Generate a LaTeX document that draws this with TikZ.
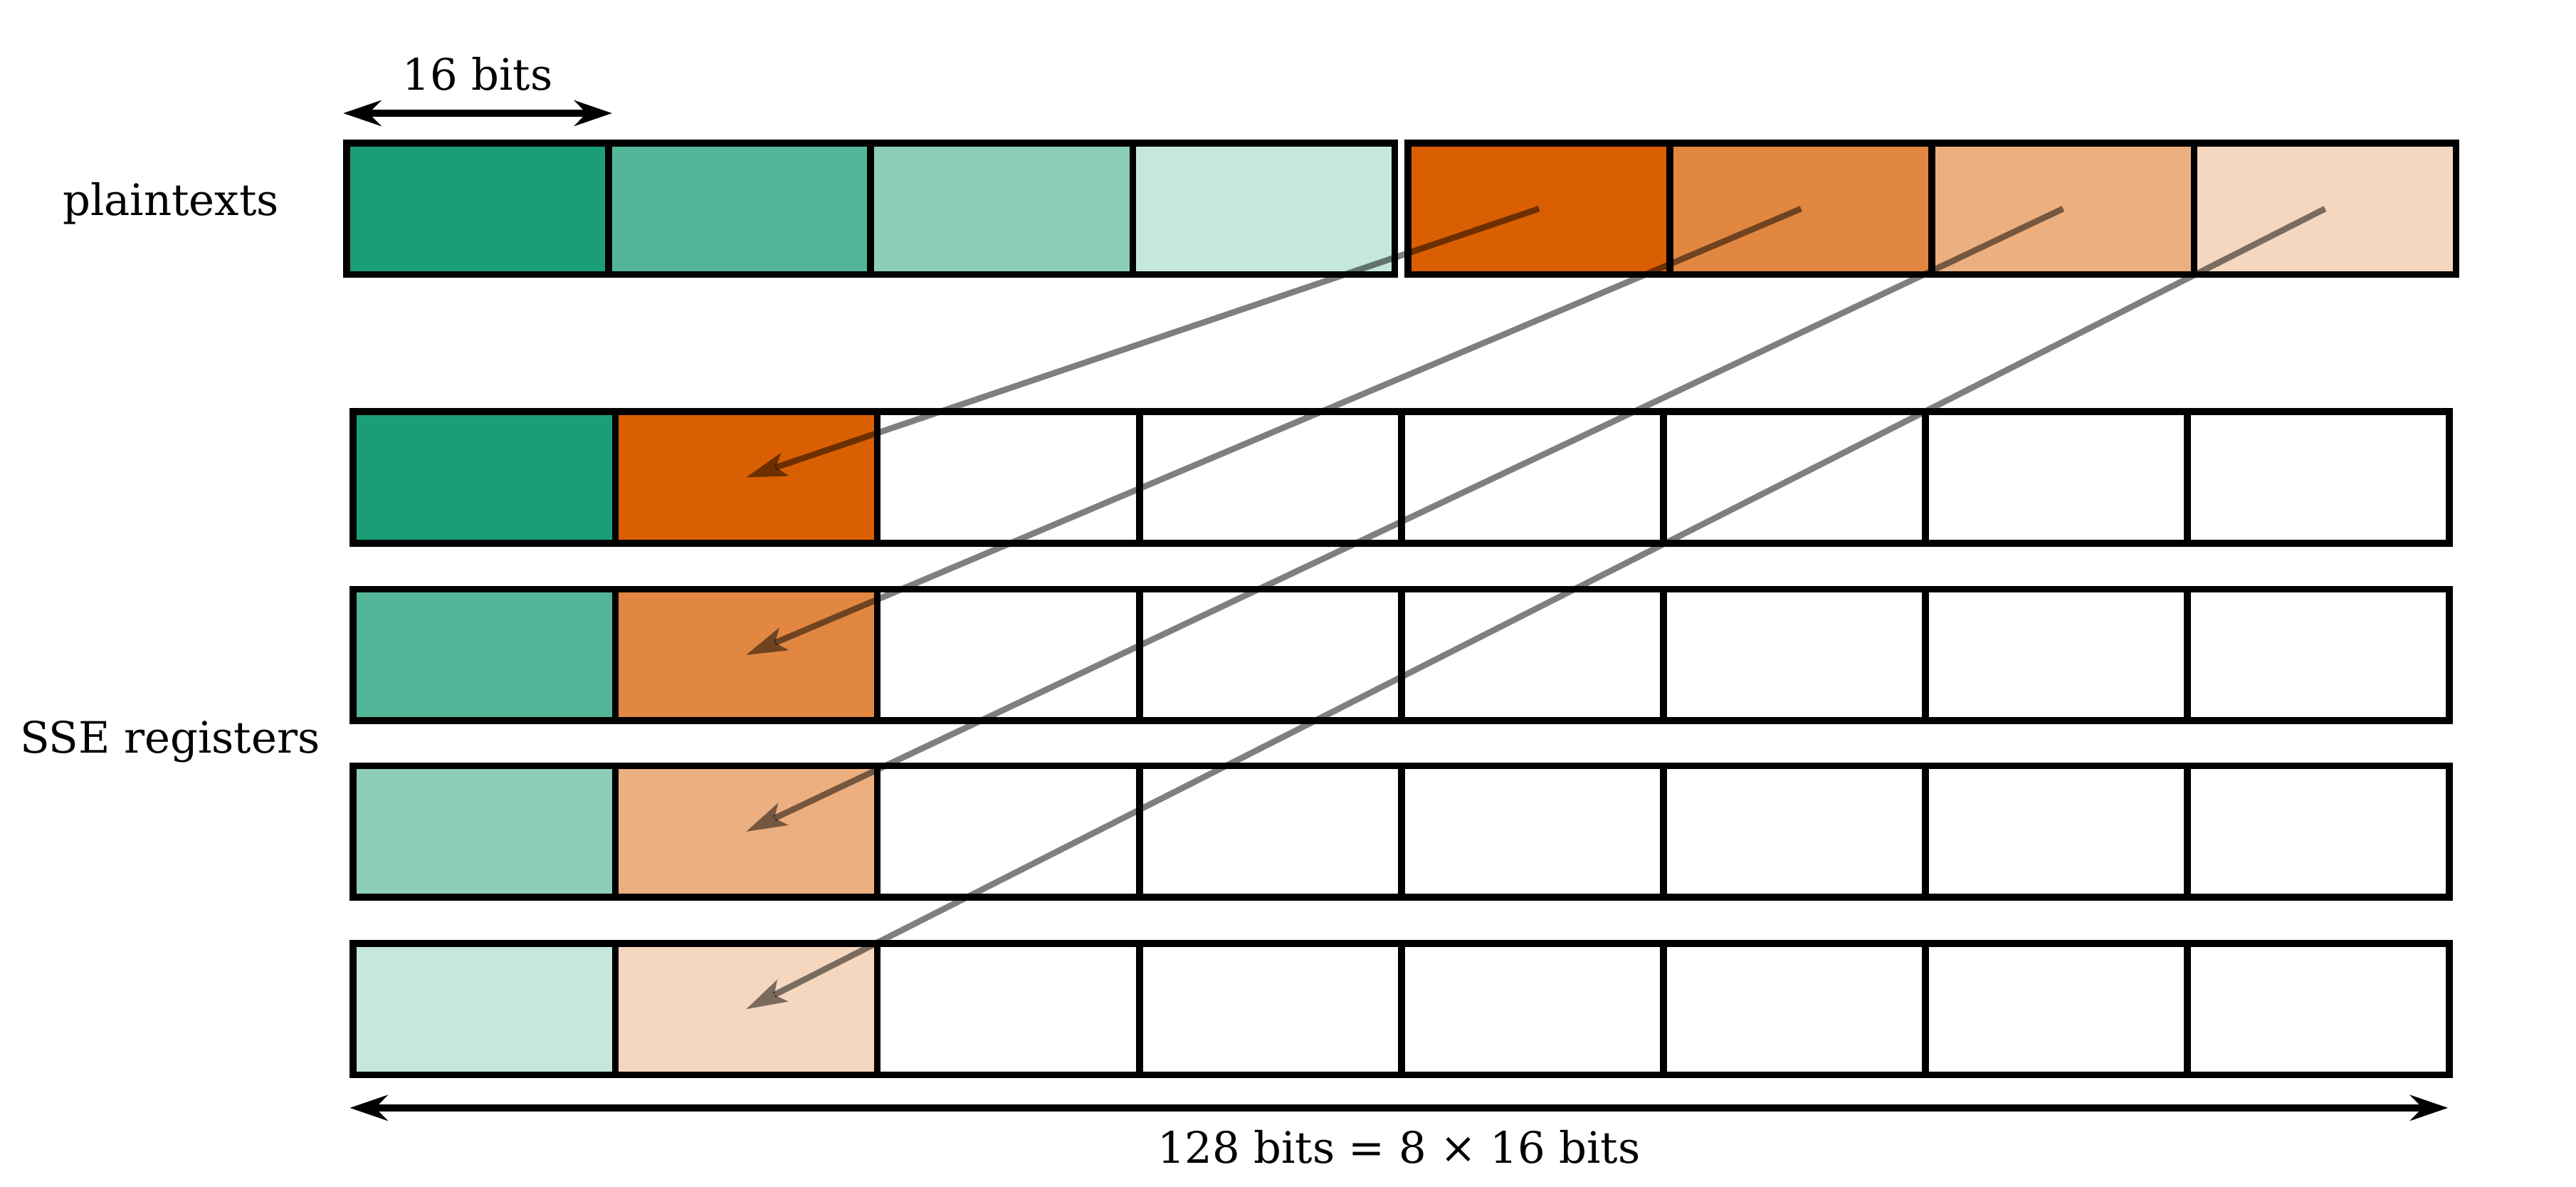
\documentclass[tikz,border=0pt]{standalone}
\usepackage{fontspec}
\setmainfont{DejaVu Serif}
\usetikzlibrary{arrows.meta}
\definecolor{dkgreen}{HTML}{1B9E77}
\definecolor{dkorange}{HTML}{D95F02}

\begin{document}
\begin{tikzpicture}[
  cell/.style={draw, line width=2.4pt, minimum width=3.19cm, minimum height=1.6cm, inner sep=0pt},
  move/.style={line width=2.1pt, opacity=0.5, -{Stealth[length=0.5cm, width=0.3cm, inset=0.12cm, line width=0pt]}},
  dim/.style={line width=2.4pt, {Stealth[length=0.46cm, width=0.31cm]}-{Stealth[length=0.46cm, width=0.31cm]}},
  lbl/.style={font=\fontsize{15}{18}\selectfont, anchor=base, inner sep=0pt}]
\useasboundingbox (0,0) rectangle (31.36,-14.44);
% plaintexts
\foreach \i/\x/\col in {1/5.815/dkgreen, 2/9.005/dkgreen!75, 3/12.195/dkgreen!50, 4/15.385/dkgreen!25,
  5/18.735/dkorange, 6/21.925/dkorange!75, 7/25.115/dkorange!50, 8/28.305/dkorange!25}
  \node[cell, fill=\col] (p\i) at (\x,-2.54) {};
% SSE registers
\foreach \j/\y/\ca/\cb in {1/-5.81/dkgreen/dkorange, 2/-7.97/dkgreen!75/dkorange!75,
  3/-10.12/dkgreen!50/dkorange!50, 4/-12.28/dkgreen!25/dkorange!25}
{
  \node[cell, fill=\ca] (r\j-1) at (5.895,\y) {};
  \node[cell, fill=\cb] (r\j-2) at (9.085,\y) {};
  \foreach \i in {3,...,8}
    \node[cell] (r\j-\i) at ({5.895+3.19*(\i-1)},\y) {};
}
% moves
\foreach \j in {1,...,4}
{
  \pgfmathtruncatemacro\k{\j+4}
  \draw[move] (p\k.center) -- (r\j-2.center);
}
% sizes
\coordinate (wl) at ([yshift=0.32cm]p1.north west);
\coordinate (wr) at ([yshift=0.32cm]p1.north east);
\draw[dim] (wl) -- (wr) node[lbl, midway, yshift=0.28cm] (w16) {16 bits};
\coordinate (bl) at ([yshift=-0.36cm]r4-1.south west);
\coordinate (br) at ([xshift=-0.06cm, yshift=-0.36cm]r4-8.south east);
\draw[dim] (bl) -- (br) node[lbl, midway, yshift=-0.67cm] (w128) {128 bits = 8 × 16 bits};
\node[lbl] (plain) at (2.08,-2.62) {plaintexts};
\node[lbl] (sse) at (2.07,-9.16) {SSE registers};
\end{tikzpicture}
\end{document}
